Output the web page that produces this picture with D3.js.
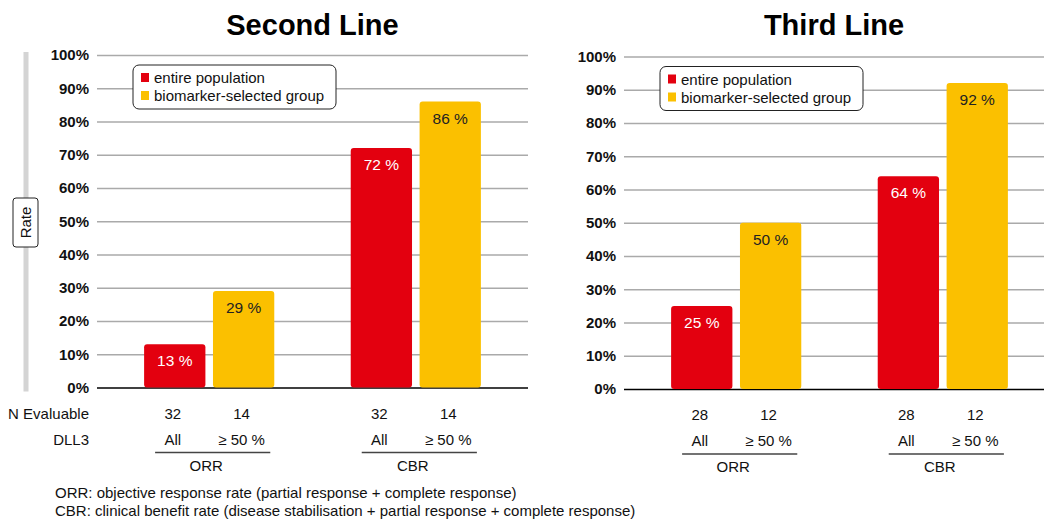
<!DOCTYPE html>
<html>
<head>
<meta charset="utf-8">
<script src="https://cdn.jsdelivr.net/npm/d3@7"></script>
<style>
    body { margin: 0; background: #fff; }
    svg { font-family: "Liberation Sans", Arial, Helvetica, sans-serif; }
</style>
</head>
<body>
<svg id="chart" width="1044" height="521"></svg>
<script>
const GROUPS = ["ORR", "CBR"];
const SUBGROUPS = ["All", "≥ 50 %"];
const SERIES = ["entire population", "biomarker-selected group"];
const COLORS = ["#e3000f", "#fbc000"];
const Y_TICKS = [0, 10, 20, 30, 40, 50, 60, 70, 80, 90, 100];

const SECOND_LINE_VALUES = [[13, 29], [72, 86]];
const SECOND_LINE_N = [32, 14];
const THIRD_LINE_VALUES = [[25, 50], [64, 92]];
const THIRD_LINE_N = [28, 12];

const FOOTNOTES = [
    "ORR: objective response rate (partial response + complete response)",
    "CBR: clinical benefit rate (disease stabilisation + partial response + complete response)",
];

const svg = d3.select("#chart");

const panels = [
    { title: "Second Line", values: SECOND_LINE_VALUES, n: SECOND_LINE_N,
      x0: 97, x1: 528, y0: 387.5, y1: 55, rowLabels: true, rateAxis: true },
    { title: "Third Line", values: THIRD_LINE_VALUES, n: THIRD_LINE_N,
      x0: 624, x1: 1055, y0: 389, y1: 56.5, rowLabels: false, rateAxis: false },
];

panels.forEach(drawPanel);

function drawPanel(p) {
    const g = svg.append("g");

    const y = d3.scaleLinear().domain([0, 100]).range([p.y0, p.y1]);
    const x = d3.scaleBand().domain(GROUPS).range([p.x0, p.x1])
        .paddingInner(0.37).paddingOuter(0.228);
    const xs = d3.scaleBand().domain(d3.range(SUBGROUPS.length)).range([0, x.bandwidth()])
        .paddingInner(0.11);

    // title
    g.append("text")
        .attr("x", (p.x0 + Math.min(p.x1, 1044)) / 2)
        .attr("y", 35)
        .attr("text-anchor", "middle")
        .style("font-size", "29px")
        .style("font-weight", "bold")
        .text(p.title);

    // grid + y labels
    const yAxis = d3.axisLeft(y).tickValues(Y_TICKS)
        .tickSize(-(p.x1 - p.x0)).tickPadding(8).tickFormat((d) => d + "%");
    const ax = g.append("g").attr("transform", `translate(${p.x0},0)`).call(yAxis);
    ax.select(".domain").remove();
    ax.selectAll(".tick line").attr("stroke", (d) => (d == 0 ? "#000" : "#aaa"))
        .attr("stroke-width", 1.5);
    ax.selectAll(".tick text").style("font-size", "15px").style("font-weight", "bold")
        .attr("fill", "#111").attr("x", -8);

    // bars
    GROUPS.forEach((grp, gi) => {
        const gx = x(grp);
        p.values[gi].forEach((v, si) => {
            const bx = gx + xs(si);
            g.append("rect")
                .attr("x", bx)
                .attr("y", y(v))
                .attr("width", xs.bandwidth())
                .attr("height", y(0) - y(v))
                .attr("rx", 3)
                .attr("fill", COLORS[si]);
            g.append("text")
                .attr("x", bx + xs.bandwidth() / 2)
                .attr("y", y(v) + 22)
                .attr("text-anchor", "middle")
                .style("font-size", "15.5px")
                .attr("fill", si == 0 ? "#fff" : "#222")
                .text(v + " %");

            // N row and DLL3 row
            g.append("text")
                .attr("x", bx + xs.bandwidth() / 2 - 2)
                .attr("y", p.y0 + 31)
                .attr("text-anchor", "middle")
                .style("font-size", "15px")
                .attr("fill", "#111")
                .text(p.n[si]);
            g.append("text")
                .attr("x", bx + xs.bandwidth() / 2 - 2)
                .attr("y", p.y0 + 57)
                .attr("text-anchor", "middle")
                .style("font-size", "15px")
                .attr("fill", "#111")
                .text(SUBGROUPS[si]);
        });

        g.append("line")
            .attr("x1", gx + 11).attr("x2", gx + x.bandwidth() - 4)
            .attr("y1", p.y0 + 65).attr("y2", p.y0 + 65)
            .attr("stroke", "#444").attr("stroke-width", 1.5);
        g.append("text")
            .attr("x", gx + x.bandwidth() / 2 - 3)
            .attr("y", p.y0 + 83)
            .attr("text-anchor", "middle")
            .style("font-size", "15px")
            .attr("fill", "#111")
            .text(grp);
    });

    if (p.rowLabels) {
        [["N Evaluable", 31], ["DLL3", 57]].forEach(([t, dy]) => {
            g.append("text")
                .attr("x", p.x0 - 8).attr("y", p.y0 + dy)
                .attr("text-anchor", "end")
                .style("font-size", "15px")
                .attr("fill", "#111")
                .text(t);
        });
    }

    // legend
    const lg = g.append("g").attr("transform", `translate(${p.x0 + 36},${p.y1 + 10})`);
    lg.append("rect")
        .attr("width", 203).attr("height", 44).attr("rx", 6)
        .attr("fill", "#fff").attr("stroke", "#222").attr("stroke-width", 1);
    SERIES.forEach((s, i) => {
        lg.append("rect")
            .attr("x", 8).attr("y", 8 + i * 18)
            .attr("width", 8).attr("height", 9)
            .attr("fill", COLORS[i]);
        lg.append("text")
            .attr("x", 21).attr("y", 18 + i * 18)
            .style("font-size", "15px")
            .attr("fill", "#111")
            .text(s);
    });

    // vertical axis title
    if (p.rateAxis) {
        g.append("line")
            .attr("x1", 26).attr("x2", 26)
            .attr("y1", p.y1 - 3).attr("y2", p.y0 + 4)
            .attr("stroke", "#d4d4d4").attr("stroke-width", 5);
        g.append("rect")
            .attr("x", 13).attr("y", 198).attr("width", 25).attr("height", 49)
            .attr("rx", 3).attr("fill", "#fff").attr("stroke", "#222");
        g.append("text")
            .attr("transform", "translate(31,222.5) rotate(-90)")
            .attr("text-anchor", "middle")
            .style("font-size", "15px")
            .attr("fill", "#111")
            .text("Rate");
    }
}

svg.selectAll("text.foot")
    .data(FOOTNOTES)
    .enter()
    .append("text")
    .attr("class", "foot")
    .attr("x", 55)
    .attr("y", (_, i) => 498 + i * 18)
    .style("font-size", "15px")
    .attr("fill", "#111")
    .text((d) => d);
</script>
</body>
</html>
